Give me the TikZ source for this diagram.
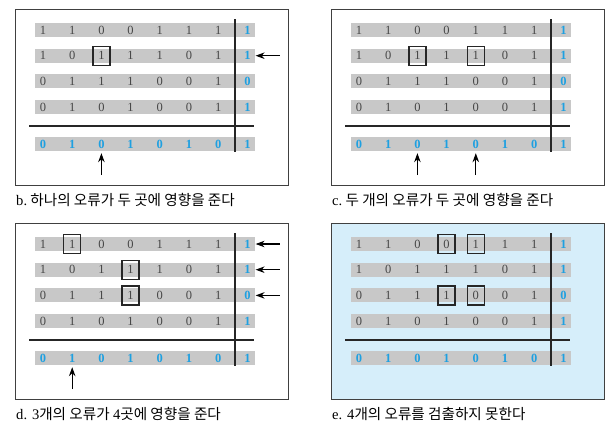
\documentclass[tikz,border=0pt]{standalone}
\usepackage{fontspec}
\setmainfont{Liberation Serif}
\newfontfamily\kr{Noto Sans CJK KR}
\usepackage{xcolor}
\usepackage{tikz}
\usetikzlibrary{arrows.meta,positioning}

\definecolor{bargray}{RGB}{200,200,200}
\definecolor{bitgray}{RGB}{70,70,70}
\definecolor{parblue}{RGB}{30,160,225}
\definecolor{skyfill}{RGB}{214,238,250}

% one panel: name, x, y, fill, caption
\newcommand{\parpanel}[5]{%
  \begin{scope}[shift={(#2,#3)}]
    \node[panelframe, fill=#4] (#1-frame) at (136.5,88) {};
    \foreach \ry [count=\r] in {21,46.7,72.4,98.1,135}
      \node[bar] (#1-bar\r) at (130,\ry) {};
    \foreach \row [count=\r] in {{1,1,0,0,1,1,1,1},{1,0,1,1,1,0,1,1},{0,1,1,1,0,0,1,0},{0,1,0,1,0,0,1,1},{0,1,0,1,0,1,0,1}} {
      \pgfmathsetmacro\ry{\r<5 ? 21+25.7*(\r-1) : 135}
      \foreach \b [count=\c] in \row {
        \ifnum\r=5 \def\sty{par}\else\ifnum\c=8 \def\sty{par}\else\def\sty{bit}\fi\fi
        \node[\sty] (#1-\r-\c) at ({28+29.2*(\c-1)},\ry) {\b};
      }
    }
    \coordinate (#1-vt) at (220,10);
    \coordinate (#1-vb) at (220,143);
    \coordinate (#1-hl) at (14,117);
    \coordinate (#1-hr) at (239,117);
    \draw[cross] (#1-vt) -- (#1-vb);
    \draw[cross] (#1-hl) -- (#1-hr);
    \node[caption] (#1-cap) at (1,191) {#5};
  \end{scope}
}

\begin{document}
\begin{tikzpicture}[x=1pt, y=-1pt,
  panelframe/.style={draw=black!75, line width=0.8pt, minimum width=273pt,
                     minimum height=176pt, inner sep=0pt},
  bar/.style={fill=bargray, minimum width=220pt, minimum height=14pt, inner sep=0pt},
  bit/.style={font=\fontsize{12.5}{12}\selectfont, text=bitgray, inner sep=0pt,
              minimum width=12pt, minimum height=14pt},
  par/.style={bit, text=parblue, font=\fontsize{12.5}{12}\selectfont\bfseries},
  errbox/.style={draw=black!85, line width=1.3pt, minimum width=17pt,
                 minimum height=19pt, inner sep=0pt},
  cross/.style={line width=2.3pt, black!85},
  arr/.style={-{Stealth[length=9pt, width=6.5pt]}, line width=1.1pt, shorten >=2pt},
  caption/.style={anchor=west, font=\fontsize{14.6}{15}\selectfont, inner sep=0pt}
]
  \useasboundingbox (0,0) rectangle (610,429);

  \parpanel{b}{15}{9}{white}{b.{\kr\ 하나의 오류가 두 곳에 영향을 준다}}
  \parpanel{c}{331}{9}{white}{c.{\kr\ 두 개의 오류가 두 곳에 영향을 준다}}
  \parpanel{d}{15}{223}{white}{d. 3{\kr 개의 오류가 }4{\kr 곳에 영향을 준다}}
  \parpanel{e}{331}{223}{skyfill}{e. 4{\kr 개의 오류를 검출하지 못한다}}

  % b: one error
  \node[errbox] (b-x1) at (b-2-3) {};
  \coordinate[right=26pt of b-2-8] (b-in2);
  \coordinate[below=24pt of b-5-3] (b-up3);
  \draw[arr] (b-in2) -- (b-2-8);
  \draw[arr] (b-up3) -- (b-5-3);

  % c: two errors
  \node[errbox] (c-x1) at (c-2-3) {};
  \node[errbox] (c-x2) at (c-2-5) {};
  \coordinate[below=24pt of c-5-3] (c-up3);
  \coordinate[below=24pt of c-5-5] (c-up5);
  \draw[arr] (c-up3) -- (c-5-3);
  \draw[arr] (c-up5) -- (c-5-5);

  % d: three errors
  \node[errbox] (d-x1) at (d-1-2) {};
  \node[errbox] (d-x2) at (d-2-4) {};
  \node[errbox] (d-x3) at (d-3-4) {};
  \foreach \r in {1,2,3} {
    \coordinate[right=26pt of d-\r-8] (d-in\r);
    \draw[arr] (d-in\r) -- (d-\r-8);
  }
  \coordinate[below=24pt of d-5-2] (d-up2);
  \draw[arr] (d-up2) -- (d-5-2);

  % e: four errors, not detected
  \node[errbox] (e-x1) at (e-1-4) {};
  \node[errbox] (e-x2) at (e-1-5) {};
  \node[errbox] (e-x3) at (e-3-4) {};
  \node[errbox] (e-x4) at (e-3-5) {};
\end{tikzpicture}
\end{document}
